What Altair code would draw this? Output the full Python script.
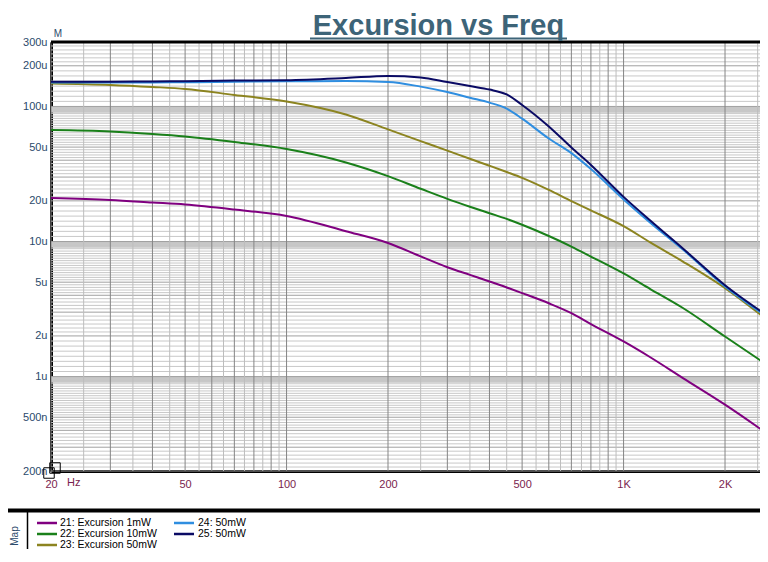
import altair as alt
import pandas as pd

# ---------------- data ----------------
freq = [20, 30, 40, 50, 70, 100, 150, 200, 250, 300, 350, 400, 450, 500,
        600, 700, 800, 1000, 1200, 1500, 2000, 2680]

# excursion in micro-metres (u)
exc_21 = [21.0, 20.3, 19.45, 18.8, 17.26, 15.45, 11.92, 9.75, 7.76, 6.45, 5.66, 5.06, 4.57, 4.15,
          3.49, 2.95, 2.45, 1.82, 1.39, 0.975, 0.62, 0.375]
exc_22 = [66.8, 65.3, 62.6, 60.0, 54.6, 48.4, 38.5, 30.5, 24.6, 20.7, 18.1, 16.2, 14.7, 13.3,
          10.98, 9.18, 7.74, 5.80, 4.45, 3.22, 1.98, 1.21]
exc_23 = [148, 144.3, 139.4, 134.8, 121.7, 108.9, 87.2, 67.6, 55.4, 47.1, 41.0, 36.4, 32.7, 29.6,
          24.1, 19.9, 17.0, 13.0, 9.85, 7.11, 4.52, 2.61]
exc_24 = [150.6, 150.6, 150.6, 151.1, 152.4, 153.7, 154.0, 151.8, 140.2, 127.8, 116.0, 106.7, 96.3, 81.2,
          57.9, 45.1, 34.4, 20.5, 13.8, 8.72, 4.64, 2.74]
exc_25 = [152.4, 152.4, 153.1, 153.7, 155.3, 156.6, 162.6, 168.2, 164.0, 151.8, 141.6, 133.4, 122.7, 102.6,
          71.1, 49.7, 36.9, 21.4, 14.3, 8.87, 4.75, 2.81]

series_names = ["21: Excursion 1mW", "22: Excursion 10mW", "23: Excursion 50mW", "24: 50mW", "25: 50mW"]
series_values = [exc_21, exc_22, exc_23, exc_24, exc_25]
series_colors = ["#800080", "#1a801a", "#8c8420", "#2f8ee0", "#0a0a64"]

y_ticks = [300, 200, 100, 50, 20, 10, 5, 2, 1, 0.5, 0.2]
x_ticks = [20, 50, 100, 200, 500, 1000, 2000]
x_labels = ["20", "50", "100", "200", "500", "1K", "2K"]

title_text = "Excursion vs Freq"

# ---------------- layout constants ----------------
W, H = 709, 429
FONT = "Liberation Sans, Arial, sans-serif"
AXIS_BLUE = "#2b4a6b"
AXIS_RED = "#7a1e4e"

xscale = alt.Scale(type="log", domain=[20, 2540], nice=False)
yscale = alt.Scale(type="log", domain=[0.2, 300], nice=False)

# grid lines (log-paper style)
h_minor, h_major = [], []
segments = [(1, 2, 8), (2, 3, 6), (3, 4, 5), (4, 5, 5), (5, 10, 17)]
for dec in [0.1, 1, 10, 100]:
    for a, b, n in segments:
        for j in range(n):
            v = dec * a * (b / a) ** (j / n)
            if 0.2 <= v <= 300:
                (h_major if j == 0 else h_minor).append(round(v, 6))
band_lo = [d * 0.9 for d in [1, 10, 100]]
band_hi = [1, 10, 100]

v_minor, v_major = [], []
for base in [10, 100, 1000]:
    for k in range(4, 21):
        f = base * k / 2
        if 20 <= f <= 2540:
            (v_major if k % 2 == 0 else v_minor).append(f)

label_map = " : ".join(
    [f"datum.value == {t} ? '{l}'" for t, l in zip(x_ticks, x_labels)]) + " : ''"

x_axis = alt.Axis(values=x_ticks, labelExpr=label_map, ticks=False, grid=False,
                  domainColor="black", domainWidth=3, labelColor=AXIS_RED,
                  labelFont=FONT, labelFontSize=11, labelPadding=7, title=None,
                  labelFlush=False, labelOverlap=False)
y_axis = alt.Axis(values=y_ticks,
                  labelExpr="datum.value >= 1 ? datum.value + 'u' : round(datum.value*1000) + 'n'",
                  ticks=False, grid=False, domainColor="black", domainWidth=3,
                  labelColor=AXIS_BLUE, labelFont=FONT, labelFontSize=11,
                  labelPadding=4, title=None, labelFlush=False, labelOverlap=False)


def X(field):
    return alt.X(field, type="quantitative", scale=xscale, axis=x_axis, title=None)


def Y(field):
    return alt.Y(field, type="quantitative", scale=yscale, axis=y_axis, title=None)


one = pd.DataFrame({"a": [0]})

layers = []
# horizontal grid bands just under each decade line
layers.append(alt.Chart(pd.DataFrame({"lo": band_lo, "hi": band_hi}))
              .mark_rect(color="#c6c6c6")
              .encode(y=Y("lo"), y2="hi"))
# horizontal grid
layers.append(alt.Chart(pd.DataFrame({"v": h_minor})).mark_rule(color="#c8c8c8", strokeWidth=1)
              .encode(y=Y("v")))
layers.append(alt.Chart(pd.DataFrame({"v": h_major})).mark_rule(color="#a0a0a0", strokeWidth=1)
              .encode(y=Y("v")))
# vertical grid
layers.append(alt.Chart(pd.DataFrame({"f": v_minor})).mark_rule(color="#bdbdbd", strokeWidth=1)
              .encode(x=X("f")))
layers.append(alt.Chart(pd.DataFrame({"f": v_major})).mark_rule(color="#858585", strokeWidth=1)
              .encode(x=X("f")))

# curves
for name, vals, col in zip(series_names, series_values, series_colors):
    df = pd.DataFrame({"f": freq, "v": vals, "s": name})
    layers.append(alt.Chart(df).mark_line(color=col, strokeWidth=2, interpolate="monotone", clip=True)
                  .encode(x=X("f"), y=Y("v")))

# frame top
layers.append(alt.Chart(one).mark_rule(color="black", strokeWidth=3)
              .encode(x=alt.value(0), x2=alt.value(W), y=alt.value(0)))

# cursor widget at the origin corner
for cx, cy in [(-2, 431), (4, 426)]:
    layers.append(alt.Chart(one).mark_point(shape="square", size=110, filled=False,
                                            color="black", strokeWidth=1, opacity=1)
                  .encode(x=alt.value(cx), y=alt.value(cy)))

# title + underline
layers.append(alt.Chart(one).mark_text(text=title_text, font=FONT, fontSize=29, fontWeight="bold",
                                       color="#3d6478", align="center", baseline="alphabetic")
              .encode(x=alt.value(387.5), y=alt.value(-7)))
layers.append(alt.Chart(one).mark_rule(color="#3d6478", strokeWidth=2)
              .encode(x=alt.value(259), x2=alt.value(516), y=alt.value(-3.5)))

# "M" unit marker and "Hz"
layers.append(alt.Chart(one).mark_text(text="M", font=FONT, fontSize=10, color=AXIS_BLUE,
                                       align="center", baseline="middle")
              .encode(x=alt.value(7), y=alt.value(-8)))
layers.append(alt.Chart(one).mark_text(text="Hz", font=FONT, fontSize=11, color=AXIS_RED,
                                       align="left", baseline="middle")
              .encode(x=alt.value(16), y=alt.value(441)))

# legend panel
layers.append(alt.Chart(one).mark_rule(color="black", strokeWidth=4)
              .encode(x=alt.value(-43), x2=alt.value(W), y=alt.value(468.5)))
layers.append(alt.Chart(one).mark_rule(color="black", strokeWidth=1.5)
              .encode(x=alt.value(-23.5), y=alt.value(470), y2=alt.value(510)))
layers.append(alt.Chart(one).mark_text(text="Map", font=FONT, fontSize=10, color=AXIS_BLUE,
                                       align="center", baseline="middle", angle=270)
              .encode(x=alt.value(-36), y=alt.value(494)))
for i, (name, col) in enumerate(zip(series_names, series_colors)):
    c = 0 if i < 3 else 1
    r = i if i < 3 else i - 3
    yy = 481 + r * 11
    layers.append(alt.Chart(one).mark_rule(color=col, strokeWidth=2.5)
                  .encode(x=alt.value(-14 + c * 137), x2=alt.value(6 + c * 137), y=alt.value(yy)))
    layers.append(alt.Chart(one).mark_text(text=name, font=FONT, fontSize=10.5, color="black",
                                           align="left", baseline="middle")
                  .encode(x=alt.value(9 + c * 138), y=alt.value(yy)))

chart = alt.layer(*layers).properties(
    width=W, height=H,
    padding={"left": 43, "top": 34, "right": 0, "bottom": 78},
    autosize=alt.AutoSizeParams(type="none"),
    background="white",
).configure_view(stroke=None)

chart.save("out.html", embed_options={"renderer": "svg", "actions": False})
